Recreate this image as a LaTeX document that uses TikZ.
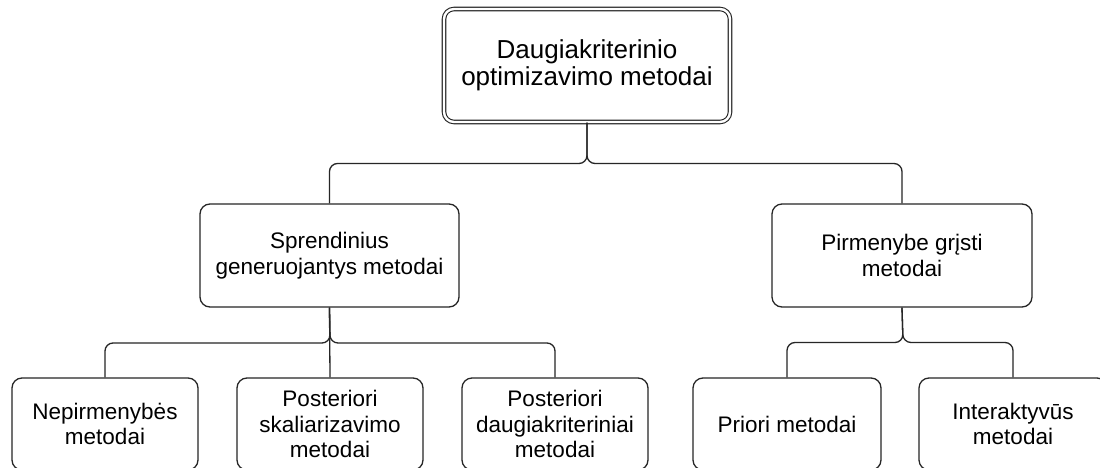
\documentclass[tikz,border=0pt]{standalone}
\usepackage{fontspec}
\setmainfont{Liberation Sans}
\begin{document}
\begin{tikzpicture}[x=1pt,y=1pt,
  box/.style={draw=black!85, line width=1.3pt, rounded corners=10pt, align=center, inner sep=0pt,
    font=\fontsize{22.5}{25.5}\selectfont},
  topbox/.style={box, double=white, double distance=2.4pt, line width=1.1pt,
    font=\fontsize{26}{27}\selectfont},
  conn/.style={draw=black!85, line width=1.3pt, rounded corners=8pt}]
\clip (0,0) rectangle (1100,-468);
\fill[white] (0,0) rectangle (1100,-468);

\node[topbox, minimum width=286pt, minimum height=113pt] (root) at (587,-65.5)
  {Daugiakriterinio\\optimizavimo metodai};

\node[box, minimum width=259pt, minimum height=103pt] (gen) at (329.5,-255.5)
  {Sprendinius\\generuojantys metodai};
\node[box, minimum width=260pt, minimum height=103pt] (pref) at (902,-255.5)
  {Pirmenybe grįsti\\metodai};

\node[box, minimum width=186pt, minimum height=92pt] (b1) at (105,-424)
  {Nepirmenybės\\metodai};
\node[box, minimum width=186pt, minimum height=92pt] (b2) at (330,-424)
  {Posteriori\\skaliarizavimo\\metodai};
\node[box, minimum width=186pt, minimum height=92pt] (b3) at (555,-424)
  {Posteriori\\daugiakriteriniai\\metodai};
\node[box, minimum width=188pt, minimum height=92pt] (b4) at (787,-424)
  {Priori metodai};
\node[box, minimum width=188pt, minimum height=92pt] (b5) at (1013,-424)
  {Interaktyvūs\\metodai};

\coordinate (j0) at (587,-163.5);
\coordinate (j1) at (330,-343);
\coordinate (j2) at (903,-342.5);

\draw[conn] (root.south) -- (j0) -| (gen.north);
\draw[conn] (root.south) -- (j0) -| (pref.north);

\draw[conn] (gen.south) -- (j1) -| (b1.north);
\draw[conn] (gen.south) -- (b2.north);
\draw[conn] (gen.south) -- (j1) -| (b3.north);

\draw[conn] (pref.south) -- (j2) -| (b4.north);
\draw[conn] (pref.south) -- (j2) -| (b5.north);
\end{tikzpicture}
\end{document}
